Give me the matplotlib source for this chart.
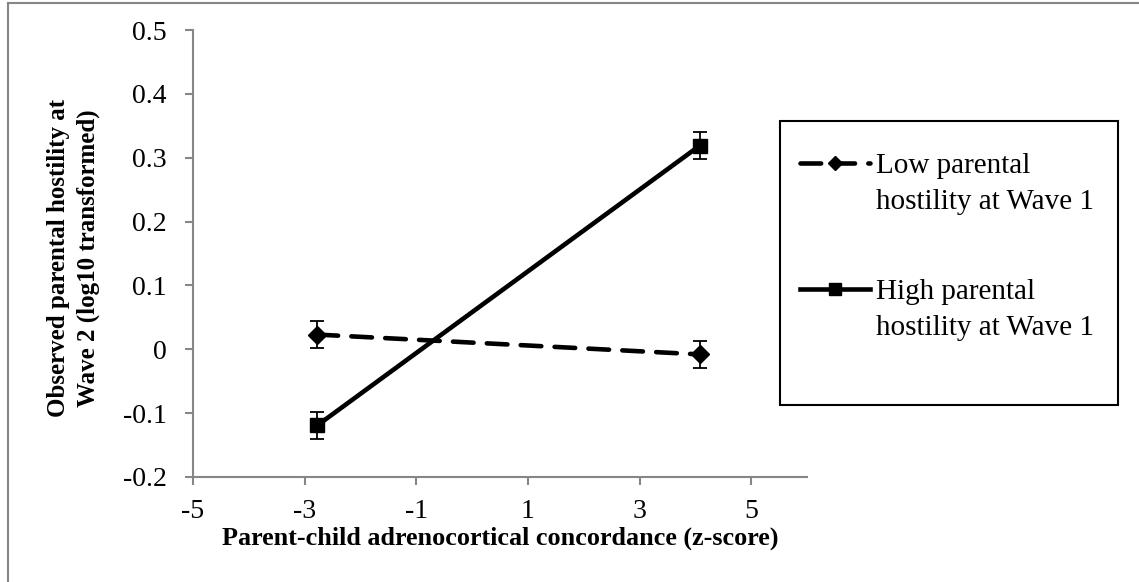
import matplotlib.pyplot as plt
from matplotlib.lines import Line2D
from matplotlib.patches import Rectangle
from matplotlib.legend_handler import HandlerLine2D

# simple slopes at -1 SD / +1 SD of concordance
conc_x = [-2.77, 4.08]
low_hostility = [0.023, -0.008]
low_err = [0.021, 0.021]
high_hostility = [-0.119, 0.319]
high_err = [0.021, 0.021]

series_labels = ["Low parental\nhostility at Wave 1", "High parental\nhostility at Wave 1"]
x_ticks = [-5, -3, -1, 1, 3, 5]
y_ticks = [-0.2, -0.1, 0, 0.1, 0.2, 0.3, 0.4, 0.5]

plt.rcParams['font.family'] = ['Liberation Serif', 'DejaVu Serif']
AXIS_GREY = '#868686'
W, H = 1139, 582
LEG_LINESPACING = 1.5


class FirstLineHandler(HandlerLine2D):
    """Put the legend glyph level with the first line of a two-line label."""
    def create_artists(self, legend, orig_handle, xdescent, ydescent,
                       width, height, fontsize, trans):
        shift = 0.5 * LEG_LINESPACING * 0.94 * fontsize
        return super().create_artists(legend, orig_handle, xdescent,
                                      ydescent - 2 * shift, width, height,
                                      fontsize, trans)


fig = plt.figure(figsize=(W / 100, H / 100), dpi=100)
ax = fig.add_axes([193 / W, 1 - 477 / H, 614 / W, 447 / H])

dash_style = dict(dashes=(4.5, 2.9), dash_capstyle='round')
err_style = dict(ecolor='black', elinewidth=1.3, capsize=5, capthick=1.3)

ax.errorbar(conc_x, low_hostility, yerr=low_err, color='black', lw=3.3,
            marker='D', ms=9, **err_style, **dash_style)
ax.errorbar(conc_x, high_hostility, yerr=high_err, color='black', lw=3.3,
            marker='s', ms=10, **err_style)

ax.set_xlim(-5, 6)
ax.set_ylim(-0.2, 0.5)
ax.set_xticks(x_ticks)
ax.set_xticklabels([str(v) for v in x_ticks])
ax.set_yticks(y_ticks)
ax.set_yticklabels(['0' if v == 0 else f'{v:g}' for v in y_ticks])

for side in ['top', 'right']:
    ax.spines[side].set_visible(False)
for side in ['left', 'bottom']:
    ax.spines[side].set_color(AXIS_GREY)
    ax.spines[side].set_linewidth(1.5)
ax.tick_params(axis='both', direction='out', length=6, width=1.5,
               color=AXIS_GREY, labelsize=20)
ax.tick_params(axis='x', pad=10)
ax.tick_params(axis='y', pad=13)

ax.set_xlabel('Parent-child adrenocortical concordance (z-score)',
              fontsize=18.8, fontweight='bold', labelpad=1.5)
ax.set_ylabel('Observed parental hostility at\nWave 2 (log10 transformed)',
              fontsize=18, fontweight='bold', linespacing=1.35)
ax.yaxis.set_label_coords(-0.152, 0.49)

# legend box drawn separately so its size can be set directly
fig.add_artist(Rectangle((780 / W, 1 - 405 / H), 338 / W, 284 / H,
                         transform=fig.transFigure, fill=False,
                         edgecolor='black', lw=1.5))

handles = [
    Line2D([], [], color='black', lw=3.3, marker='D', ms=7, **dash_style),
    Line2D([], [], color='black', lw=3.3, marker='s', ms=8),
]
leg = fig.legend(handles, series_labels, loc='upper left',
                 bbox_to_anchor=(800 / W, 1 - 153 / H), fontsize=21,
                 handlelength=2.4, handletextpad=0.2, labelspacing=2.2,
                 borderpad=0, borderaxespad=0, frameon=False,
                 handler_map={Line2D: FirstLineHandler()})
for txt in leg.get_texts():
    txt.set_linespacing(LEG_LINESPACING)

# outer chart border (top and left edges)
fig.add_artist(Line2D([7.5 / W, 1], [1 - 2.5 / H, 1 - 2.5 / H],
                      color=AXIS_GREY, lw=1.5, transform=fig.transFigure))
fig.add_artist(Line2D([7.5 / W, 7.5 / W], [0, 1 - 2.5 / H],
                      color=AXIS_GREY, lw=1.5, transform=fig.transFigure))

fig.savefig('out.png', dpi=100)
